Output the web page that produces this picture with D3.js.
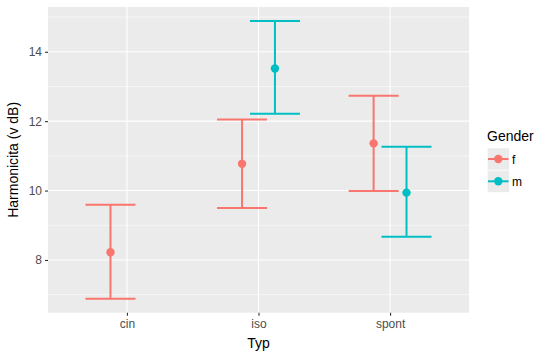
<!DOCTYPE html>
<html><head><meta charset="utf-8">
<script src="https://cdn.jsdelivr.net/npm/d3@7"></script>
<style>body{margin:0;background:#fff}svg{display:block}text{font-family:"Liberation Sans",Arial,sans-serif}</style>
</head><body>
<script>
const categories = ["cin","iso","spont"];
const genders = ["f","m"];
const colors = ["#F8766D","#00BFC4"];
const rowTyp    = ["cin","iso","iso","spont","spont"];
const rowGender = ["f","f","m","f","m"];
const rowMean   = [8.22,10.77,13.52,11.36,9.94];
const rowLow    = [6.88,9.50,12.21,9.99,8.67];
const rowHigh   = [9.59,12.05,14.89,12.73,11.26];
const yTicks = [8,10,12,14];
const yMinor = [7,9,11,13,15];

const W=559,H=358;
const M={left:48,right:469,top:7,bottom:312.7};
const svg=d3.select("body").append("svg").attr("width",W).attr("height",H);

const x=d3.scaleLinear().domain([0.4,3.6]).range([M.left,M.right]);
const y=d3.scaleLinear().domain([6.48,15.29]).range([M.bottom,M.top]);
const xPos=c=>x(categories.indexOf(c)+1);
const dodge=0.25, capW=0.38;

svg.append("rect").attr("x",M.left).attr("y",M.top).attr("width",M.right-M.left).attr("height",M.bottom-M.top).attr("fill","#EBEBEB");
svg.selectAll(".ymin").data(yMinor).enter().append("line")
 .attr("x1",M.left).attr("x2",M.right).attr("y1",d=>y(d)).attr("y2",d=>y(d)).attr("stroke","#fff").attr("stroke-width",0.55);
svg.selectAll(".ymaj").data(yTicks).enter().append("line")
 .attr("x1",M.left).attr("x2",M.right).attr("y1",d=>y(d)).attr("y2",d=>y(d)).attr("stroke","#fff").attr("stroke-width",1.1);
svg.selectAll(".xmaj").data(categories).enter().append("line")
 .attr("y1",M.top).attr("y2",M.bottom).attr("x1",d=>xPos(d)).attr("x2",d=>xPos(d)).attr("stroke","#fff").attr("stroke-width",1.1);

// axes
const yAxis=d3.axisLeft(y).tickValues(yTicks).tickSize(3).tickPadding(3);
const gy=svg.append("g").attr("transform",`translate(${M.left},0)`).call(yAxis);
gy.select(".domain").remove();
gy.selectAll("line").attr("stroke","#333").attr("stroke-width",1.1);
gy.selectAll("text").attr("fill","#4D4D4D").style("font-size","12px");

const xb=d3.scalePoint().domain(categories).range([x(1),x(3)]);
const xAxis=d3.axisBottom(xb).tickSize(3).tickPadding(4);
const gx=svg.append("g").attr("transform",`translate(0,${M.bottom})`).call(xAxis);
gx.select(".domain").remove();
gx.selectAll("line").attr("stroke","#333").attr("stroke-width",1.1);
gx.selectAll("text").attr("fill","#4D4D4D").style("font-size","12px");

svg.append("text").attr("x",(M.left+M.right)/2).attr("y",348).attr("text-anchor","middle").style("font-size","14px").attr("fill","#000").text("Typ");
svg.append("text").attr("transform",`translate(18,${(M.top+M.bottom)/2}) rotate(-90)`).attr("text-anchor","middle").style("font-size","14px").attr("fill","#000").text("Harmonicita (v dB)");

// data
const rows=rowTyp.map((t,i)=>({t,g:rowGender[i],m:rowMean[i],lo:rowLow[i],hi:rowHigh[i]}));
const cx=r=>x(categories.indexOf(r.t)+1+(r.g==="f"?-dodge/2:dodge/2));
const col=r=>colors[genders.indexOf(r.g)];
const sw=2;
const half=(x(capW)-x(0))/2;
const grp=svg.selectAll(".eb").data(rows).enter().append("g");
grp.append("line").attr("x1",cx).attr("x2",cx).attr("y1",r=>y(r.lo)).attr("y2",r=>y(r.hi)).attr("stroke",col).attr("stroke-width",sw);
grp.append("line").attr("x1",r=>cx(r)-half).attr("x2",r=>cx(r)+half).attr("y1",r=>y(r.hi)).attr("y2",r=>y(r.hi)).attr("stroke",col).attr("stroke-width",sw);
grp.append("line").attr("x1",r=>cx(r)-half).attr("x2",r=>cx(r)+half).attr("y1",r=>y(r.lo)).attr("y2",r=>y(r.lo)).attr("stroke",col).attr("stroke-width",sw);
grp.append("circle").attr("cx",cx).attr("cy",r=>y(r.m)).attr("r",4.2).attr("fill",col);

// legend
const lg=svg.append("g");
lg.append("text").attr("x",487).attr("y",141).style("font-size","14px").attr("fill","#000").text("Gender");
genders.forEach((g,i)=>{
  const ky=148+i*22.3;
  lg.append("rect").attr("x",487.3).attr("y",ky).attr("width",22).attr("height",22).attr("fill","#EBEBEB").attr("stroke","#fff").attr("stroke-width",0.5);
  lg.append("line").attr("x1",488).attr("x2",508.5).attr("y1",ky+11).attr("y2",ky+11).attr("stroke",colors[i]).attr("stroke-width",2);
  lg.append("circle").attr("cx",498.3).attr("cy",ky+11).attr("r",4.2).attr("fill",colors[i]);
  lg.append("text").attr("x",512).attr("y",ky+15.5).style("font-size","12px").attr("fill","#000").text(g);
});
</script>
</body></html>
